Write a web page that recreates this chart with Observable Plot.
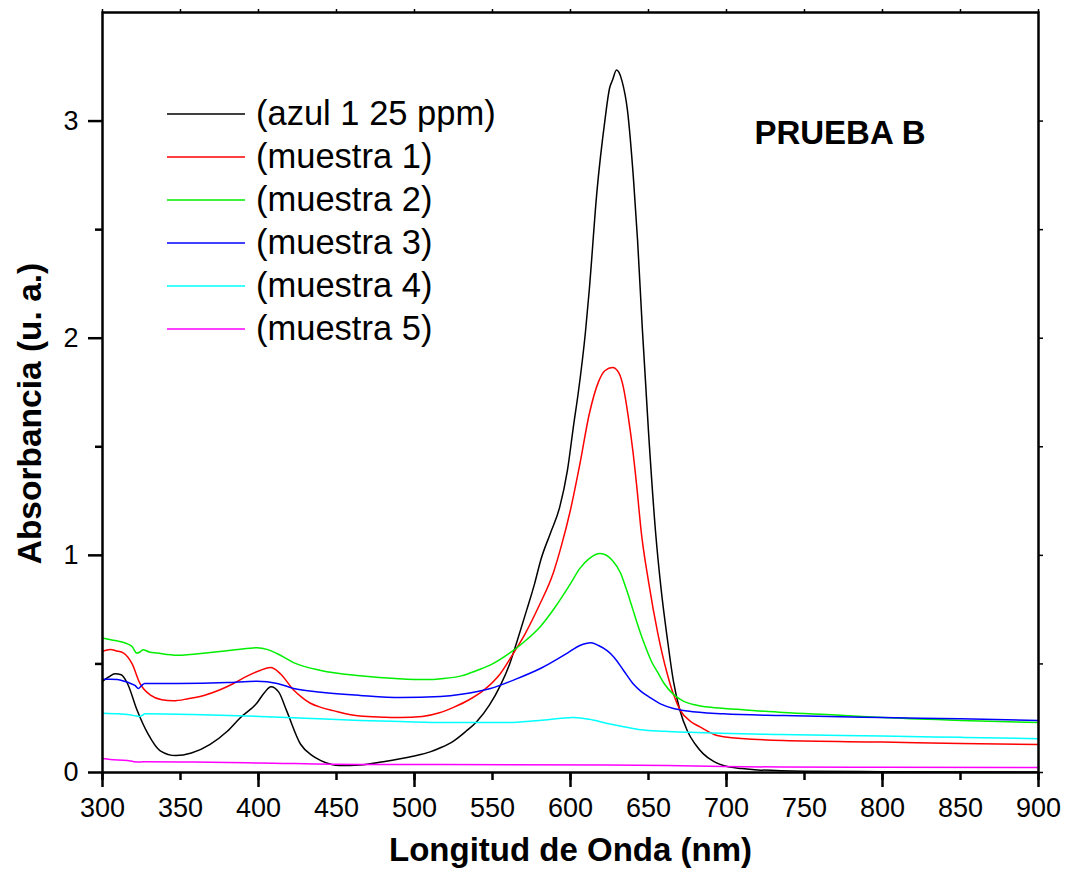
<!DOCTYPE html>
<html>
<head>
<meta charset="utf-8">
<script src="https://cdn.jsdelivr.net/npm/d3@7"></script>
<script src="https://cdn.jsdelivr.net/npm/@observablehq/plot@0.6"></script>
<style>
  body { margin: 0; background: #fff; }
  #wrap { position: relative; width: 1068px; height: 882px; font-family: "Liberation Sans", Arial, sans-serif; }
  #legend { position: absolute; left: 167px; top: 91px; }
  .row { position: relative; height: 43px; }
  .row svg { position: absolute; left: 0; top: 21px; }
  .row span { position: absolute; left: 89px; top: 0; font-size: 34.5px; line-height: 44px; white-space: nowrap; color: #000; }
</style>
</head>
<body>
<div id="wrap"></div>
<script>
// ---- data (wavelength nm, absorbance u.a.) ----
const seriesNames = ["(azul 1 25 ppm)", "(muestra 1)", "(muestra 2)", "(muestra 3)", "(muestra 4)", "(muestra 5)"];
const seriesColors = ["#000000", "#ff0000", "#00ee00", "#0000ff", "#00ffff", "#ff00ff"];

const azulX = [300,304,308,312,316,322,329,337,347,357,369,380,388,399,404,408,413,418,427,434,440,452,465,480,499,510,517,525,533,540,548,555,561,566,572,577,581,587,593,598,602,605,609.6,612,617,622,625,627,629.5,631,633,636.5,640.5,643,646,650,654.5,658,662,666,670,675,680,685,692,698,710,720,750,800,900];
const azulY = [0.42,0.44,0.455,0.45,0.41,0.29,0.18,0.10,0.078,0.09,0.13,0.19,0.25,0.32,0.37,0.395,0.37,0.285,0.13,0.08,0.055,0.032,0.035,0.05,0.075,0.095,0.115,0.145,0.19,0.235,0.31,0.40,0.50,0.61,0.75,0.87,0.98,1.10,1.22,1.39,1.60,1.75,2.03,2.22,2.68,3.0,3.15,3.19,3.235,3.225,3.185,3.05,2.72,2.45,2.05,1.57,1.11,0.85,0.62,0.42,0.29,0.19,0.13,0.087,0.05,0.032,0.018,0.012,0.006,0.004,0.002];

const m1X = [300,305,309,313.5,319,324,331,338,345.5,355,365,375,384,393,401,407.7,414,422.5,428,433,440,448,465,480,491,505,516,525,535,544,555,563.5,571,580,589,594,600,606,612,618,622,627,631,634,637,640,643,645,650,656,662,666,670.5,677,683,694,698,736.5,800,850,900];
const m1Y = [0.558,0.566,0.56,0.55,0.50,0.41,0.355,0.335,0.33,0.34,0.355,0.38,0.41,0.445,0.47,0.483,0.455,0.38,0.345,0.32,0.30,0.285,0.26,0.255,0.253,0.258,0.275,0.30,0.335,0.377,0.455,0.55,0.64,0.77,0.92,1.04,1.21,1.42,1.65,1.80,1.85,1.865,1.84,1.77,1.64,1.48,1.28,1.13,0.88,0.64,0.455,0.36,0.285,0.235,0.21,0.17,0.165,0.147,0.14,0.134,0.129];

const m2X = [300,303,306,310,315,319,322,324,326,330,335,348,369,385,399,406,414,422.5,440,465,490,508,517,530,540,550,560,570,581,590,600,606,612,619,627,632,636,640,644,648,652,656,660,666,672,681,690,709,736.5,770,800,850,900];
const m2Y = [0.62,0.615,0.61,0.605,0.595,0.58,0.55,0.555,0.565,0.555,0.55,0.54,0.553,0.565,0.575,0.566,0.54,0.506,0.47,0.446,0.432,0.428,0.432,0.445,0.47,0.50,0.545,0.60,0.675,0.76,0.87,0.94,0.985,1.008,0.975,0.92,0.84,0.75,0.66,0.58,0.51,0.46,0.41,0.36,0.33,0.31,0.30,0.29,0.276,0.265,0.253,0.24,0.23];

const m3X = [300,305,309.6,314,318,321,323,325,327,348,380,399,412,422.5,440,465,491,516.7,530,548.7,565,581,598,606,613,618,623.7,628,634,640,645,651,658,666,675,698,736.5,800,850,900];
const m3Y = [0.43,0.43,0.428,0.42,0.41,0.40,0.387,0.40,0.41,0.41,0.414,0.42,0.41,0.387,0.37,0.355,0.345,0.35,0.36,0.387,0.43,0.48,0.55,0.585,0.598,0.585,0.56,0.53,0.47,0.41,0.375,0.345,0.315,0.295,0.283,0.27,0.262,0.253,0.247,0.24];

const m4X = [300,310,316,322,324,327.5,358,401,430,465,491,520,559.6,580,602,612,623.7,635,645,660,677,734.6,800,850,900];
const m4Y = [0.273,0.27,0.267,0.26,0.258,0.27,0.267,0.258,0.25,0.24,0.235,0.23,0.23,0.24,0.253,0.245,0.226,0.21,0.197,0.19,0.185,0.175,0.168,0.162,0.156];

const m5X = [300,305,316,320,324,328,358,400,465,516.7,624,680,734.6,800,900];
const m5Y = [0.064,0.06,0.055,0.05,0.048,0.05,0.048,0.044,0.037,0.037,0.035,0.03,0.025,0.024,0.023];

const xTicks = [300,350,400,450,500,550,600,650,700,750,800,850,900];
const xMajor = [300,400,500,600,700,800,900];
const yTicks = [0,1,2,3];
const yMinor = [0.5,1.5,2.5];
const yAll = [0,0.5,1,1.5,2,2.5,3];

// ---- build table ----
const xs = [azulX, m1X, m2X, m3X, m4X, m5X];
const ys = [azulY, m1Y, m2Y, m3Y, m4Y, m5Y];
const rows = [];
seriesNames.forEach((name, k) => {
  xs[k].forEach((x, i) => rows.push({series: name, wl: x, abs: ys[k][i]}));
});

const blank = () => "";
const chart = Plot.plot({
  width: 1068,
  height: 882,
  marginLeft: 102,
  marginRight: 30,
  marginTop: 12,
  marginBottom: 110,
  style: {fontFamily: "'Liberation Sans', Arial, sans-serif", background: "#fff", color: "#000"},
  x: {domain: [300, 900], axis: null},
  y: {domain: [0, 3.5], axis: null},
  color: {domain: seriesNames, range: seriesColors},
  marks: [
    Plot.line(rows, {x: "wl", y: "abs", z: "series", stroke: "series", strokeWidth: 1.5, curve: "monotone-x"}),
    Plot.axisX({ticks: xTicks, tickSize: 8, tickPadding: 17, fontSize: 27, strokeWidth: 2.5, label: null, tickFormat: d => String(d)}),
    Plot.axisX({ticks: xMajor, tickSize: 15, strokeWidth: 2.5, label: null, tickFormat: blank}),
    Plot.axisX({anchor: "top", ticks: xTicks, tickSize: 4, strokeWidth: 1.5, label: null, tickFormat: blank}),
    Plot.axisY({ticks: yTicks, tickSize: 14, tickPadding: 10, fontSize: 27, strokeWidth: 2.5, label: null, tickFormat: d => String(d)}),
    Plot.axisY({ticks: yMinor, tickSize: 7, strokeWidth: 2.5, label: null, tickFormat: blank}),
    Plot.axisY({anchor: "right", ticks: yAll, tickSize: 4, strokeWidth: 1.5, label: null, tickFormat: blank}),
    Plot.frame({strokeWidth: 2.5}),
    Plot.text(["PRUEBA B"], {frameAnchor: "top-right", dx: -113, dy: 108, textAnchor: "end", fontSize: 33, fontWeight: "bold"}),
    Plot.text(["Longitud de Onda (nm)"], {frameAnchor: "bottom", dy: 88, textAnchor: "middle", fontSize: 33, fontWeight: "bold"}),
    Plot.text(["Absorbancia (u. a.)"], {frameAnchor: "left", dx: -72, dy: 21, rotate: -90, textAnchor: "middle", fontSize: 33.5, fontWeight: "bold"})
  ]
});

const wrap = document.getElementById("wrap");
wrap.appendChild(chart);

const legend = document.createElement("div");
legend.id = "legend";
seriesNames.forEach((name, k) => {
  const row = document.createElement("div");
  row.className = "row";
  row.innerHTML = `<svg width="78" height="4"><line x1="0" x2="78" y1="2" y2="2" stroke="${seriesColors[k]}" stroke-width="1.5"/></svg><span>${name}</span>`;
  legend.appendChild(row);
});
wrap.appendChild(legend);
</script>
</body>
</html>
